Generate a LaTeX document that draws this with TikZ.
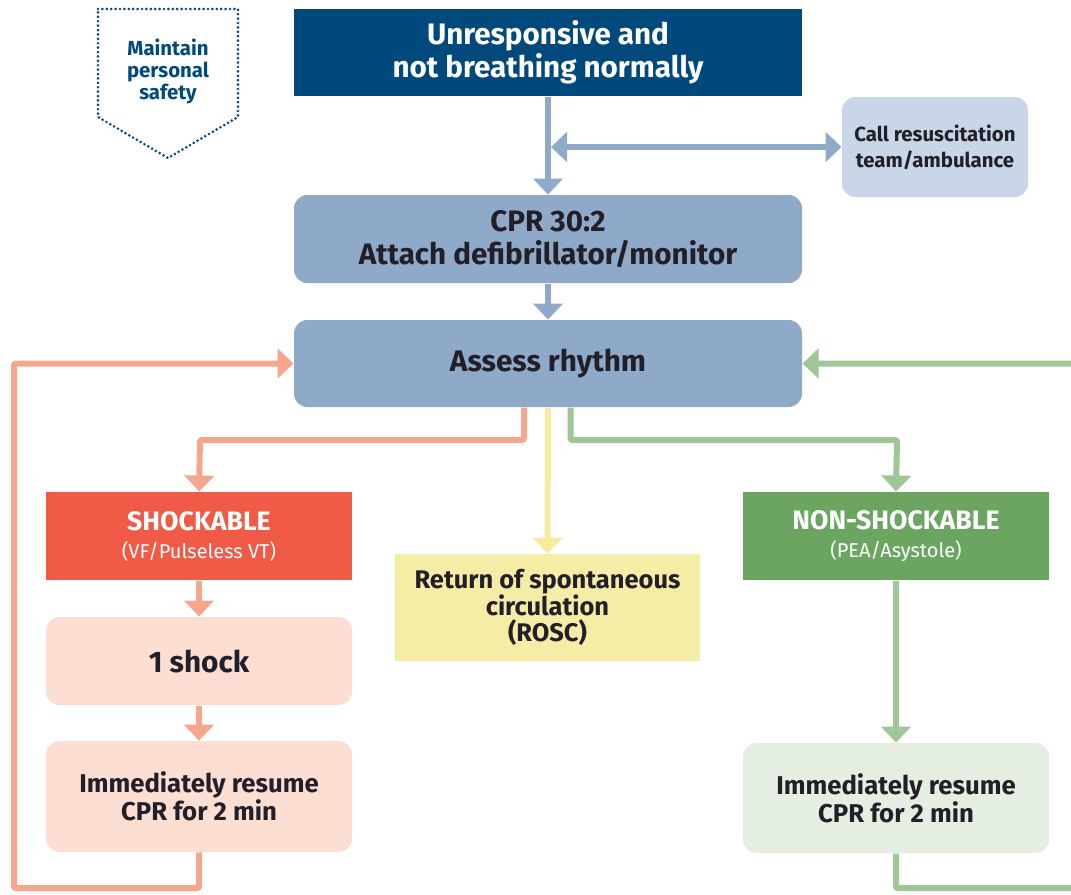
\documentclass[tikz,border=0pt]{standalone}
\usepackage{fontspec}
\setmainfont{Fira Sans}
\usetikzlibrary{arrows.meta}

\definecolor{topblue}{RGB}{0,73,124}
\definecolor{steel}{RGB}{143,170,201}
\definecolor{callfill}{RGB}{200,214,232}
\definecolor{shockred}{RGB}{240,90,70}
\definecolor{salmon}{RGB}{247,166,142}
\definecolor{pinkfill}{RGB}{252,222,210}
\definecolor{roscfill}{RGB}{245,236,165}
\definecolor{roscline}{RGB}{245,236,160}
\definecolor{nsgreen}{RGB}{108,165,98}
\definecolor{greenline}{RGB}{160,197,150}
\definecolor{greenfill}{RGB}{228,238,225}
\definecolor{txtdark}{RGB}{35,31,40}

\newcommand{\fsz}[2]{\bfseries\fontsize{#1}{#2}\selectfont}

\tikzset{every picture/.style={line width=0.75pt}}
\tikzset{
  box/.style={inner sep=0pt, align=center, text=txtdark},
  roundbox/.style={box, rounded corners=10pt},
  flow/.style={line width=4.5pt, rounded corners=1.5pt, -{Triangle[length=12pt,width=22pt]}},
  dotline/.style={draw=topblue, line width=2.2pt, line cap=round, dash pattern=on 0pt off 3.3pt},
}

\begin{document}
\begin{tikzpicture}[x=0.75pt,y=0.75pt,yscale=-1,xscale=1]
\useasboundingbox (0,0) rectangle (1071,894);

% Safety shield
\draw[dotline] (98,9) -- (238,9) -- (238,117) -- (168,158) -- (98,117) -- cycle;
\node[box, text=topblue, font=\fsz{15.3}{16.5}] (safety) at (168,71) {Maintain\\personal\\safety};

% Boxes
\node[box, fill=topblue, text=white, minimum width=381pt, minimum height=65.25pt, font=\fsz{22.2}{25}] (start) at (548,52.5)
  {Unresponsive and\\not breathing normally};
\node[roundbox, fill=callfill, minimum width=139.5pt, minimum height=75pt, font=\fsz{15.3}{19.5}] (call) at (935,147)
  {Call resuscitation\\team/ambulance};
\node[roundbox, fill=steel, minimum width=381pt, minimum height=66pt, font=\fsz{22.2}{24.75}] (cpr) at (548,239)
  {CPR 30:2\\Attach defibrillator/monitor};
\node[roundbox, fill=steel, minimum width=381pt, minimum height=65.25pt, font=\fsz{22.3}{24}] (assess) at (548,363.5)
  {Assess rhythm};
\node[box, fill=shockred, text=white, minimum width=229.5pt, minimum height=66pt, font=\fsz{20}{21}] (shock) at (199,536)
  {SHOCKABLE\\{\mdseries\fontsize{15}{14}\selectfont (VF/Pulseless VT)}};
\node[roundbox, fill=pinkfill, minimum width=229.5pt, minimum height=66pt, font=\fsz{22.3}{24}] (oneshock) at (199,661)
  {1 shock};
\node[roundbox, fill=pinkfill, minimum width=229.5pt, minimum height=83pt, font=\fsz{19.3}{21}] (resumeL) at (199,796.5)
  {Immediately resume\\CPR for 2 min};
\node[box, fill=roscfill, minimum width=229pt, minimum height=80pt, font=\fsz{19.1}{19.5}] (rosc) at (547.5,607.5)
  {Return of spontaneous\\circulation\\(ROSC)};
\node[box, fill=nsgreen, text=white, minimum width=229.5pt, minimum height=66pt, font=\fsz{20}{21}] (nonshock) at (896,536)
  {NON-SHOCKABLE\\{\mdseries\fontsize{15}{14}\selectfont (PEA/Asystole)}};
\node[roundbox, fill=greenfill, minimum width=229.5pt, minimum height=82.5pt, font=\fsz{19.3}{21}] (resumeR) at (896,798)
  {Immediately resume\\CPR for 2 min};

% Corner points
\coordinate (junc) at (551,147);
\coordinate (lsplit) at (200,440);
\coordinate (rsplit) at (897,440);
\coordinate (lcorner) at (14,888);
\coordinate (rcorner) at (1084,888);

% Blue connectors
\draw[flow, color=steel] (start.south) -- (cpr.north);
\draw[flow, color=steel, {Triangle[length=12pt,width=22pt]}-{Triangle[length=12pt,width=22pt]}] (junc) -- (call.west);
\draw[flow, color=steel] (cpr) -- (assess);

% Branches
\draw[flow, color=salmon] ([xshift=-18pt]assess.south) |- (lsplit) -- (shock.north);
\draw[flow, color=roscline] (assess.south) -- (rosc.north);
\draw[flow, color=greenline] ([xshift=17pt]assess.south) |- (rsplit) -- (nonshock.north);

% Shockable path
\draw[flow, color=salmon] (shock) -- (oneshock);
\draw[flow, color=salmon] (oneshock) -- (resumeL);
\draw[flow, color=salmon] (resumeL.south) |- (lcorner) |- (assess.west);

% Non-shockable path
\draw[flow, color=greenline] (nonshock) -- (resumeR);
\draw[flow, color=greenline] (resumeR.south) |- (rcorner) |- (assess.east);

\end{tikzpicture}
\end{document}
